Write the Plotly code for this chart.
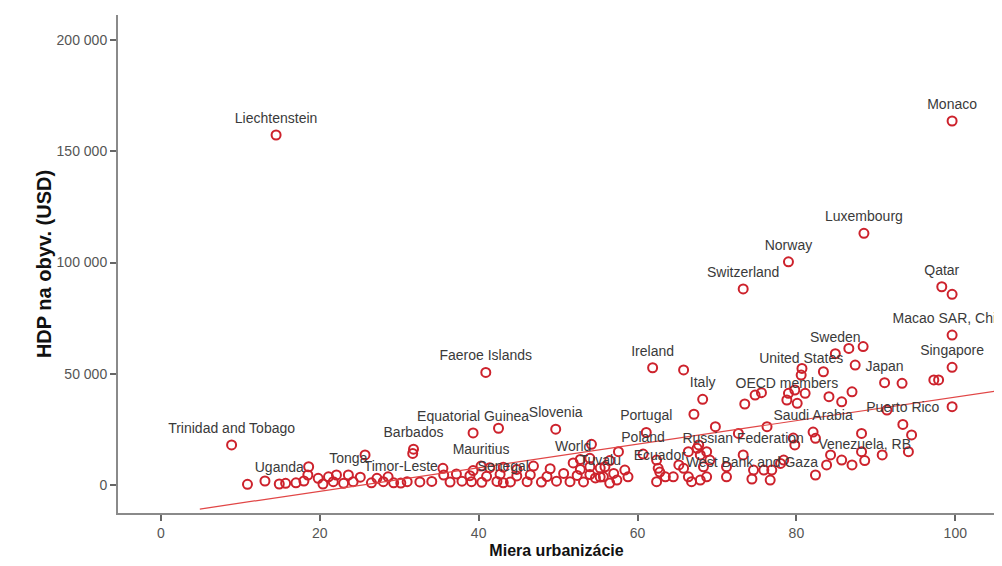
import plotly.graph_objects as go

# Labelled countries: urbanization (%) and GDP per capita (USD)
label_names = ["Monaco", "Liechtenstein", "Luxembourg", "Norway", "Switzerland", "Qatar",
               "Macao SAR, China", "Singapore", "Faeroe Islands", "Ireland", "Sweden",
               "United States", "Japan", "OECD members", "Italy", "Puerto Rico",
               "Saudi Arabia", "Venezuela, RB", "Russian Federation", "West Bank and Gaza",
               "Ecuador", "Poland", "Portugal", "Tuvalu", "World", "Slovenia", "Mauritius",
               "Equatorial Guinea", "Barbados", "Timor-Leste", "Tonga", "Uganda",
               "Trinidad and Tobago", "Senegal"]
label_urb = [99.6, 14.5, 88.5, 79.0, 73.3, 98.3, 99.6, 99.6, 40.9, 61.9, 84.9,
             80.6, 91.1, 78.8, 68.2, 93.4, 82.1, 88.6, 73.3, 74.4,
             62.8, 60.7, 61.1, 55.3, 51.9, 49.7, 40.3, 39.3, 31.8, 30.2, 23.6, 14.9, 8.9, 43.1]
label_gdp = [163600, 157300, 113100, 100300, 88100, 89100, 67400, 52900, 50600, 52700, 59000,
             49400, 46000, 38200, 38500, 27200, 23800, 11000, 13500, 2700,
             5800, 13900, 23600, 3600, 9900, 25100, 8500, 23400, 16100, 900, 4500, 450, 18000, 1000]

# Other (unlabelled) countries
other_urb = [10.9, 13.1, 15.7, 17.0, 18.0, 18.6, 18.5, 19.8, 20.4, 21.1, 21.7, 22.1, 23.0, 24.2,
             25.1, 25.7, 26.5, 27.2, 28.0, 28.6, 29.3,
             31.0, 32.6, 34.1, 36.4, 37.9, 39.1, 40.4, 42.3, 44.0, 46.1, 47.9, 49.8, 51.5, 53.2,
             35.6, 37.2, 38.9, 41.0, 42.7, 44.8, 46.5, 48.6, 50.7, 52.4, 54.0,
             35.5, 39.3, 41.4, 43.1, 44.8, 46.9, 49.0, 52.8, 54.0, 55.3,
             52.8, 54.0, 56.5, 54.2, 42.5, 31.7, 54.7, 56.5,
             67.1, 69.8, 73.5, 74.8, 75.6, 76.3, 79.0, 79.8, 80.1, 79.8, 57.6, 55.9, 57.0, 58.4,
             58.8, 57.4, 55.7, 62.4, 62.6, 62.4, 63.5, 64.5, 65.8, 66.4, 66.8, 65.2, 66.4, 67.5,
             67.9, 68.7, 69.1, 68.3, 68.7, 67.9, 71.2, 71.2, 74.6, 75.9, 76.7, 76.9, 78.0, 78.4,
             72.7, 79.6, 67.7,
             81.1, 84.1, 85.7, 87.0, 93.3, 97.3, 97.9, 91.4, 99.6, 94.5, 94.1, 90.8, 88.2, 88.2,
             87.0, 85.7, 84.3, 83.8, 82.4, 82.4,
             86.6, 88.4, 87.4, 80.7, 83.4, 65.8, 99.6]
other_gdp = [300, 1800, 760, 1000, 1800, 8200, 4500, 3000, 450, 3700, 1500, 4500, 760, 1500,
             3500, 13500, 1000, 3000, 1500, 3700, 1000,
             1500, 1400, 1600, 1300, 1700, 1500, 1200, 1600, 1400, 1500, 1300, 1700, 1500, 1400,
             4500, 5000, 4200, 3900, 4800, 4100, 4600, 3800, 5200, 4300, 4700,
             7500, 6500, 7800, 8000, 7000, 8500, 7300, 7000, 8200, 7600,
             11500, 12000, 11000, 18300, 25500, 14200, 3200, 900,
             31800, 26200, 36400, 40400, 41500, 26200, 41200, 42700, 36700, 18000, 15000, 8200, 5200, 6700,
             3700, 2200, 3700, 11200, 7500, 1500, 3700, 3700, 7500, 3700, 1500, 9000, 15000, 16500,
             13500, 15000, 11200, 8200, 3700, 2200, 3700, 8200, 6700, 6700, 2200, 6700, 9700, 11200,
             23200, 21100, 18000,
             41200, 39700, 37400, 41900, 45700, 47200, 47200, 33700, 35200, 22500, 15000, 13500, 23200, 15000,
             9000, 11200, 13500, 9000, 4500, 21000,
             61400, 62200, 53900, 52400, 50900, 51700, 85700]

# Linear fit line (GDP = intercept + slope * urbanization)
fit_intercept = -13400
fit_slope = 529
fit_x = [4.9, 105.0]
fit_y = [fit_intercept + fit_slope * v for v in fit_x]

y_ticks = [0, 50000, 100000, 150000, 200000]
y_tick_text = ["0", "50 000", "100 000", "150 000", "200 000"]
x_ticks = [0, 20, 40, 60, 80, 100]

RED = "rgb(205,34,44)"
FONT = "Liberation Sans, Arial, sans-serif"

fig = go.Figure()
fig.add_trace(go.Scatter(
    x=other_urb + label_urb, y=other_gdp + label_gdp, mode="markers",
    marker=dict(symbol="circle-open", size=9, color=RED, line=dict(width=2, color=RED)),
    showlegend=False, cliponaxis=True))
fig.add_trace(go.Scatter(
    x=fit_x, y=fit_y, mode="lines", line=dict(color="rgb(225,70,70)", width=1.2),
    showlegend=False))
fig.add_trace(go.Scatter(
    x=label_urb, y=label_gdp, mode="markers+text", text=label_names,
    textposition="top center", cliponaxis=True,
    textfont=dict(family=FONT, size=14, color="#3a3a3a"),
    marker=dict(size=12, opacity=0), showlegend=False, hoverinfo="skip"))

# The page body has an 8px default margin, so the figure is sized 994x558
fig.update_layout(
    width=994, height=558,
    margin=dict(l=110, r=7, t=7, b=53),
    paper_bgcolor="white", plot_bgcolor="white",
    xaxis=dict(range=[-5.4, 105], tickvals=x_ticks, showgrid=False, zeroline=False,
               automargin=False,
               showline=True, linecolor="#8a8a8a", linewidth=2,
               ticks="outside", ticklen=6, tickwidth=1.5, tickcolor="#666",
               tickfont=dict(family=FONT, size=14, color="#555"),
               title=dict(text="<b>Miera urbanizácie</b>", standoff=5,
                          font=dict(family=FONT, size=16, color="#111"))),
    yaxis=dict(range=[-12584, 211236], tickvals=y_ticks, ticktext=y_tick_text,
               showgrid=False, zeroline=False, automargin=False,
               showline=True, linecolor="#8a8a8a", linewidth=2,
               ticks="outside", ticklen=6, tickwidth=1.5, tickcolor="#666",
               tickfont=dict(family=FONT, size=14, color="#555"),
               title=dict(text="<b>HDP na obyv. (USD)</b>", standoff=0,
                          font=dict(family=FONT, size=20, color="#111"))),
)

fig.write_html("out.html")
